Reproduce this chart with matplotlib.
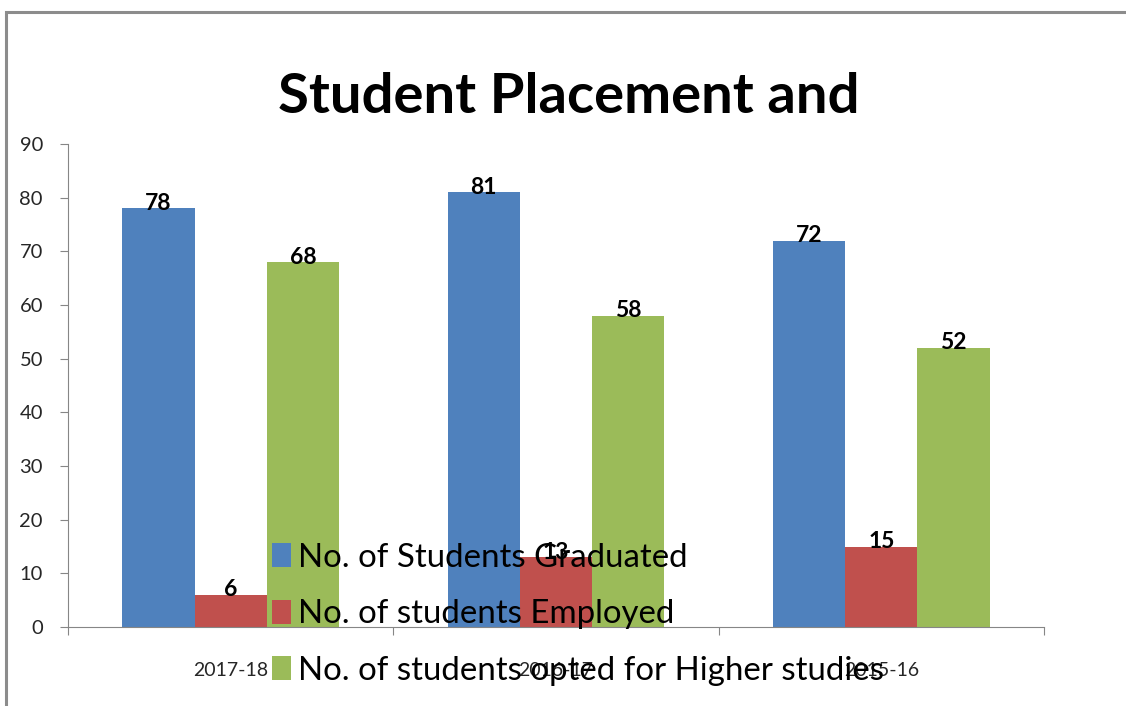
"""Student placement bar chart."""

import numpy as np
import matplotlib
matplotlib.use("Agg")
import matplotlib.pyplot as plt
from matplotlib.patches import Rectangle

plt.rcParams['font.family'] = ['Lato', 'DejaVu Sans']

years = ["2017-18", "2016-17", "2015-16"]
graduated = [78, 81, 72]
employed = [6, 13, 15]
higher = [68, 58, 52]
series_names = ["No. of Students Graduated",
                "No. of students Employed",
                "No. of students opted for Higher studies"]
colors = ["#4F81BD", "#C0504D", "#9BBB59"]

fig = plt.figure(figsize=(11.26, 7.06), dpi=100)
ax = fig.add_axes([68/1126, 79/706, (1044-68)/1126, (627-144)/706])

# outer chart frame
fig.patches.append(Rectangle((6/1126, -0.05), 1.2, 1 - 12/706 + 0.05,
                             transform=fig.transFigure, fill=False,
                             edgecolor="#8c8c8c", linewidth=2.2))

x = np.arange(len(years))
w = 0.222
handles = []
for i, (vals, c) in enumerate(zip([graduated, employed, higher], colors)):
    bars = ax.bar(x + (i - 1) * w, vals, w, color=c, label=series_names[i])
    handles.append(bars)
    for b, v in zip(bars, vals):
        ax.annotate(str(v), (b.get_x() + b.get_width() / 2, v),
                    xytext=(0, -4), textcoords="offset points",
                    ha="center", va="bottom", fontsize=16.5,
                    fontweight="bold", color="black")

ax.set_xlim(-0.5, 2.5)
ax.set_ylim(0, 90)
ax.set_yticks(range(0, 91, 10))
ax.set_xticks([-0.5, 0.5, 1.5, 2.5])
ax.set_xticklabels([])
ax.set_xticks(x, minor=True)
ax.set_xticklabels(years, minor=True)
ax.tick_params(axis="x", which="major", length=6, color="#868686", direction="out")
ax.tick_params(axis="x", which="minor", length=0, pad=25, labelsize=14,
               labelcolor="#262626")
ax.tick_params(axis="y", length=6, color="#868686", labelsize=14.5,
               labelcolor="#262626", pad=12)
for s in ["top", "right"]:
    ax.spines[s].set_visible(False)
for s in ["left", "bottom"]:
    ax.spines[s].set_color("#868686")

fig.text(0.505, 0.863, "Student Placement and", ha="center", va="center",
         fontsize=40.5, fontweight="bold")

fig.legend(handles=handles, loc="center left", bbox_to_anchor=(255/1126, 0.13),
           frameon=False, fontsize=23.8, handlelength=0.6, handleheight=0.75,
           handletextpad=0.2, labelspacing=0.8, borderpad=0)

fig.savefig("out.png", dpi=100)
